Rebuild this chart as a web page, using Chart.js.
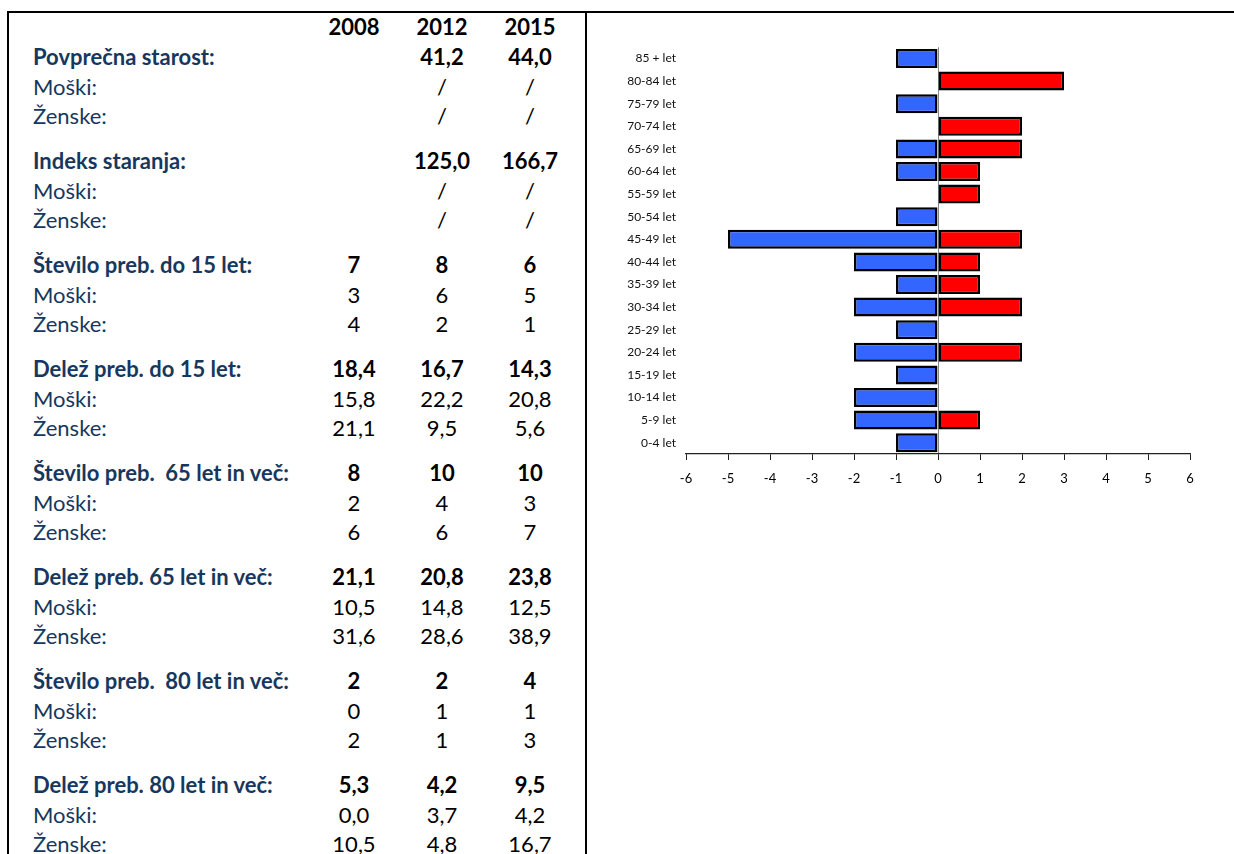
<!DOCTYPE html>
<html>
<head>
<meta charset="utf-8">
<script src="https://cdn.jsdelivr.net/npm/chart.js@4.4.0/dist/chart.umd.min.js"></script>
<style>
  html, body { margin: 0; padding: 0; background: #fff; }
  body { width: 1234px; height: 854px; position: relative; overflow: hidden; font-family: Lato, "Open Sans", sans-serif; }
  .line { position: absolute; background: #000; }
  .txt { position: absolute; white-space: pre; line-height: 1.2; font-size: 22px; }
  .lbl { color: #17375E; }
  .val { color: #000; text-align: center; width: 80px; }
  .b { font-weight: bold; }
  #chartBox { position: absolute; left: 596px; top: 30px; width: 620px; height: 470px; }
</style>
</head>
<body>
<div class="line" style="left:7px; top:11px; width:1227px; height:2px;"></div>
<div class="line" style="left:7px; top:11px; width:2px; height:843px;"></div>
<div class="line" style="left:585px; top:11px; width:2px; height:843px;"></div>
<div id="table"></div>
<div id="chartBox"><canvas id="pyramid"></canvas></div>

<script>
// leva tabela
const years = ["2008", "2012", "2015"];
const groupLabels = [
  "Povprečna starost:", "Indeks staranja:", "Število preb. do 15 let:", "Delež preb. do 15 let:",
  "Število preb.  65 let in več:", "Delež preb. 65 let in več:",
  "Število preb.  80 let in več:", "Delež preb. 80 let in več:"
];
const subLabels = ["Moški:", "Ženske:"];
const totals = [
  ["", "41,2", "44,0"], ["", "125,0", "166,7"], ["7", "8", "6"], ["18,4", "16,7", "14,3"],
  ["8", "10", "10"], ["21,1", "20,8", "23,8"], ["2", "2", "4"], ["5,3", "4,2", "9,5"]
];
const maleValues = [
  ["", "/", "/"], ["", "/", "/"], ["3", "6", "5"], ["15,8", "22,2", "20,8"],
  ["2", "4", "3"], ["10,5", "14,8", "12,5"], ["0", "1", "1"], ["0,0", "3,7", "4,2"]
];
const femaleValues = [
  ["", "/", "/"], ["", "/", "/"], ["4", "2", "1"], ["21,1", "9,5", "5,6"],
  ["6", "6", "7"], ["31,6", "28,6", "38,9"], ["2", "1", "3"], ["10,5", "4,8", "16,7"]
];

// piramida
const ageGroups = [
  "85 + let", "80-84 let", "75-79 let", "70-74 let", "65-69 let", "60-64 let",
  "55-59 let", "50-54 let", "45-49 let", "40-44 let", "35-39 let", "30-34 let",
  "25-29 let", "20-24 let", "15-19 let", "10-14 let", "5-9 let", "0-4 let"
];
const men = [-1, 0, -1, 0, -1, -1, 0, -1, -5, -2, -1, -2, -1, -2, -1, -2, -2, -1];
const women = [0, 3, 0, 2, 2, 1, 1, 0, 2, 1, 1, 2, 0, 2, 0, 0, 1, 0];

function buildTable() {
  const table = document.getElementById("table");
  const colX = [354, 442, 530];
  const fs = 22;
  const addText = (text, x, cy, cls) => {
    const el = document.createElement("div");
    el.className = "txt " + cls;
    el.textContent = text;
    el.style.top = (cy - Math.round(fs * 0.63)) + "px";
    el.style.left = x + "px";
    table.appendChild(el);
  };

  years.forEach((y, i) => addText(y, colX[i] - 40, 28, "val lbl b"));

  groupLabels.forEach((label, g) => {
    const top = 58 + 104 * g;
    addText(label, 33, top, "lbl b");
    addText(subLabels[0], 33, top + 29.5, "lbl");
    addText(subLabels[1], 33, top + 59, "lbl");
    for (let c = 0; c < 3; c++) {
      addText(totals[g][c], colX[c] - 40, top, "val b");
      addText(maleValues[g][c], colX[c] - 40, top + 29.5, "val");
      addText(femaleValues[g][c], colX[c] - 40, top + 59, "val");
    }
  });
}

function drawPyramid() {
  const ctx = document.getElementById("pyramid").getContext("2d");

  new Chart(ctx, {
    type: "bar",
    data: {
      labels: ageGroups,
      datasets: [
        { label: "Moški", data: men, backgroundColor: "#3366FF", borderColor: "#000", borderWidth: 2.5, borderSkipped: false },
        { label: "Ženske", data: women, backgroundColor: "#FF0000", borderColor: "#000", borderWidth: 2.5, borderSkipped: false }
      ]
    },
    options: {
      indexAxis: "y",
      responsive: true,
      maintainAspectRatio: false,
      animation: false,
      barPercentage: 0.84,
      categoryPercentage: 1,
      layout: { padding: { top: 14, right: 26, bottom: 6, left: 0 } },
      plugins: {
        legend: { display: false },
        title: { display: false },
        tooltip: { enabled: false }
      },
      scales: {
        x: {
          stacked: true,
          min: -6,
          max: 6,
          ticks: { stepSize: 1, color: "#000", font: { family: "Lato", size: 13 }, padding: 11, callback: v => String(v) },
          grid: {
            color: c => (c.tick && c.tick.value === 0 ? "#888" : "transparent"),
            tickColor: "#222",
            tickLength: 6
          },
          border: { display: true, color: "#222", width: 1.2 },
          afterFit: s => { s.height = 40; }
        },
        y: {
          stacked: true,
          ticks: { color: "#111", font: { family: "Lato", size: 12 }, padding: 10 },
          grid: { display: false, drawTicks: false },
          border: { display: false },
          afterFit: s => { s.width = 90; }
        }
      }
    }
  });
}

buildTable();
drawPyramid();
</script>
</body>
</html>
